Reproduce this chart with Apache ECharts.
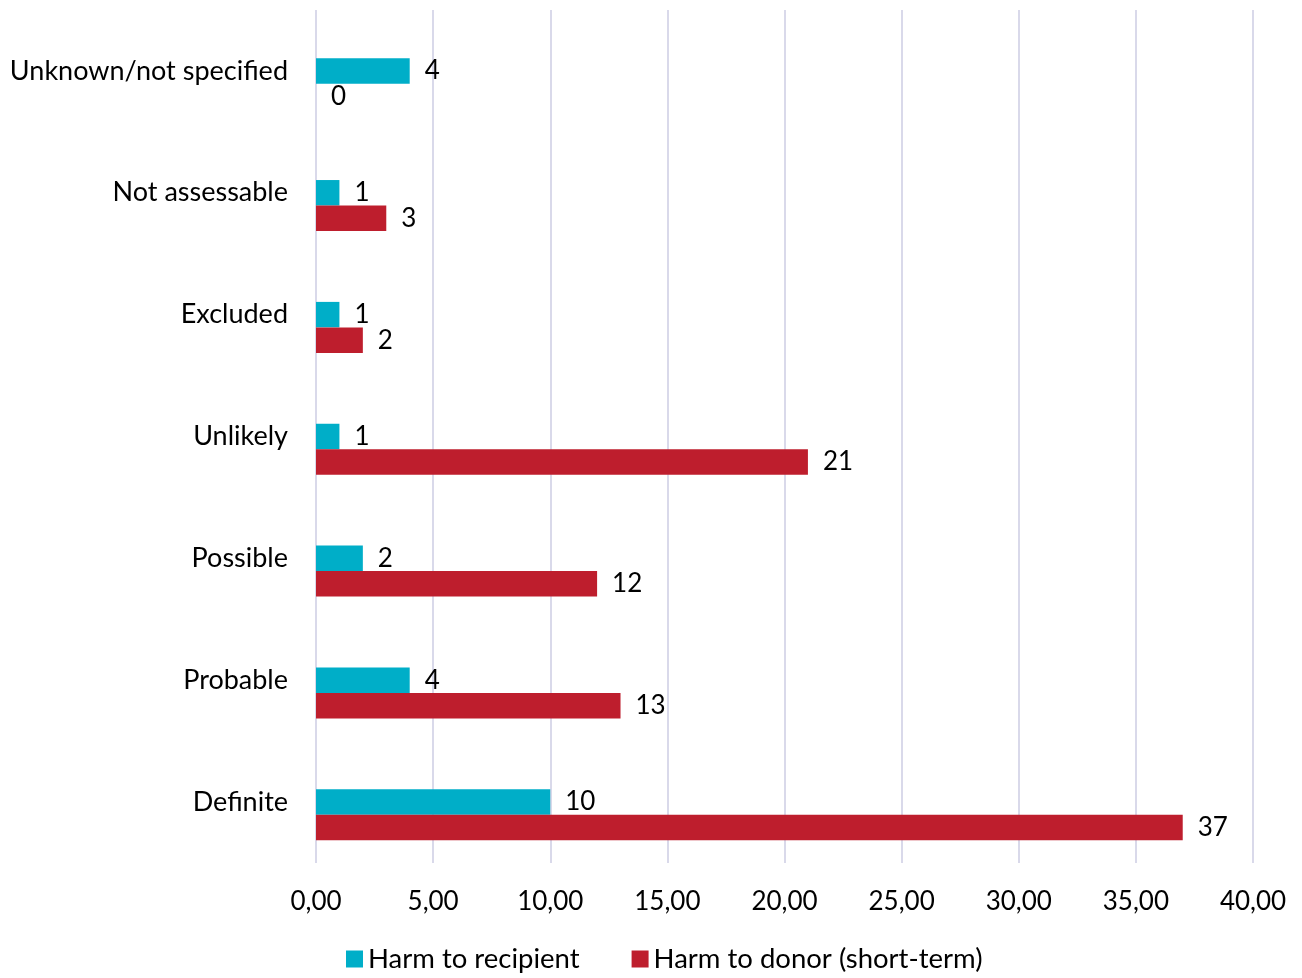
<!DOCTYPE html>
<html>
<head>
<meta charset="utf-8">
<script src="https://cdn.jsdelivr.net/npm/echarts@6/dist/echarts.min.js"></script>
<style>html,body{margin:0;padding:0;background:#fff;}#c{width:1302px;height:978px;}</style>
</head>
<body>
<div id="c"></div>
<script>
const categories = ['Definite', 'Probable', 'Possible', 'Unlikely', 'Excluded', 'Not assessable', 'Unknown/not specified'];
const harmRecipient = [10, 4, 2, 1, 1, 1, 4];
const harmDonor = [37, 13, 12, 21, 2, 3, 0];
const xTicks = { min: 0, max: 40, interval: 5 };

const FONT = 'Lato';
const chart = echarts.init(document.getElementById('c'), null, { renderer: 'canvas' });
chart.setOption({
  animation: false,
  textStyle: { fontFamily: FONT },
  grid: { left: 316, right: 49, top: 10, bottom: 115, containLabel: false },
  legend: {
    data: ['Harm to recipient', 'Harm to donor (short-term)'],
    bottom: 0, left: 341,
    itemWidth: 17, itemHeight: 17, itemGap: 52,
    icon: 'rect',
    textStyle: { fontFamily: FONT, fontSize: 27.5, color: '#000' }
  },
  xAxis: {
    type: 'value', min: xTicks.min, max: xTicks.max, interval: xTicks.interval,
    axisLine: { show: false }, axisTick: { show: false },
    axisLabel: { margin: 26, fontSize: 26, color: '#000', fontFamily: FONT,
      formatter: v => v.toFixed(2).replace('.', ',') },
    splitLine: { show: true, lineStyle: { color: '#D9D9EA', width: 2 } }
  },
  yAxis: {
    type: 'category', data: categories,
    axisLine: { show: false }, axisTick: { show: false },
    axisLabel: { margin: 28, fontSize: 27, color: '#000', fontFamily: FONT }
  },
  series: [
    { name: 'spacer', type: 'bar', data: [], barWidth: 25.5, barGap: 0, silent: true },
    { name: 'Harm to recipient', type: 'bar', data: harmRecipient, barWidth: 25.5, barGap: 0,
      itemStyle: { color: '#00AEC8' },
      label: { show: true, position: 'right', distance: 15, fontSize: 26, color: '#000', fontFamily: FONT } },
    { name: 'Harm to donor (short-term)', type: 'bar', data: harmDonor, barWidth: 25.5, barGap: 0,
      itemStyle: { color: '#BE1E2D' },
      label: { show: true, position: 'right', distance: 15, fontSize: 26, color: '#000', fontFamily: FONT } }
  ]
});
</script>
</body>
</html>
